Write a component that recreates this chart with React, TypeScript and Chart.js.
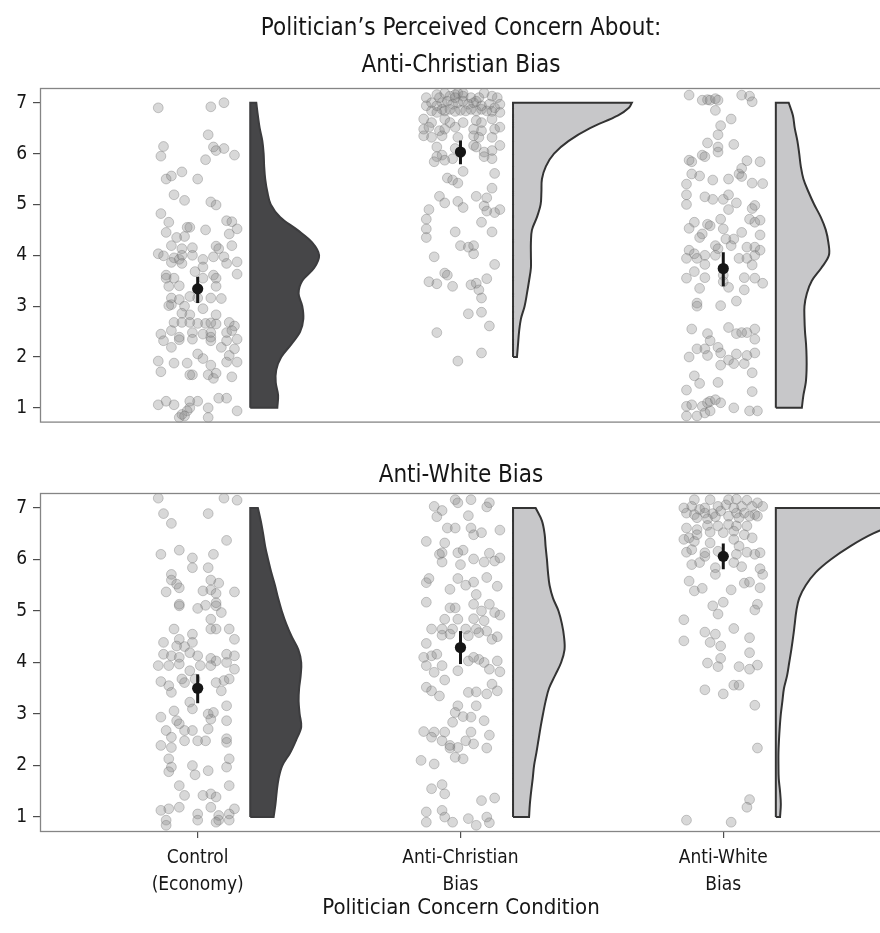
import { useEffect, useRef } from 'react';
import { Chart, registerables } from 'chart.js';

Chart.register(...registerables);

// ---------- data ----------
const CONDITIONS = [['Control', '(Economy)'], ['Anti-Christian', 'Bias'], ['Anti-White', 'Bias']];
const Y_TICKS = [1, 2, 3, 4, 5, 6, 7];
const PANEL_TITLES = ['Anti-Christian Bias', 'Anti-White Bias'];

// means with 95% CI, per condition
const P1_MEANS = [3.34, 6.03, 3.74];
const P1_CI_LOW = [3.06, 5.79, 3.39];
const P1_CI_HIGH = [3.58, 6.26, 4.06];
const P2_MEANS = [3.5, 4.29, 6.06];
const P2_CI_LOW = [3.21, 3.97, 5.81];
const P2_CI_HIGH = [3.77, 4.61, 6.31];

// density outlines: y levels and half-widths (category units)
const Y_FULL = [1, 1.25, 1.5, 1.75, 2, 2.25, 2.5, 2.75, 3, 3.25, 3.5, 3.75, 4, 4.25, 4.5, 4.75, 5, 5.25, 5.5, 5.75, 6, 6.25, 6.5, 6.75, 7];
const Y_FROM2 = [2, 2.25, 2.5, 2.75, 3, 3.25, 3.5, 3.75, 4, 4.25, 4.5, 4.75, 5, 5.25, 5.5, 5.75, 6, 6.25, 6.5, 6.75, 6.9, 7];
const Y_FULL_TOP = [1, 1.25, 1.5, 1.75, 2, 2.25, 2.5, 2.75, 3, 3.25, 3.5, 3.75, 4, 4.25, 4.5, 4.75, 5, 5.25, 5.5, 5.75, 6, 6.25, 6.5, 6.75, 6.9, 7];

const P1_CONTROL_DENSITY = [0.103, 0.106, 0.097, 0.099, 0.118, 0.156, 0.19, 0.202, 0.198, 0.184, 0.198, 0.243, 0.262, 0.236, 0.179, 0.114, 0.078, 0.065, 0.057, 0.053, 0.051, 0.046, 0.036, 0.029, 0.023];
const P1_ANTICHR_DENSITY = [0.015, 0.019, 0.023, 0.03, 0.044, 0.053, 0.061, 0.068, 0.068, 0.068, 0.072, 0.091, 0.105, 0.108, 0.11, 0.125, 0.156, 0.212, 0.293, 0.4, 0.441, 0.452];
const P1_ANTIWHT_DENSITY = [0.099, 0.105, 0.114, 0.117, 0.117, 0.115, 0.111, 0.109, 0.109, 0.118, 0.137, 0.173, 0.202, 0.2, 0.19, 0.171, 0.146, 0.124, 0.105, 0.095, 0.089, 0.082, 0.072, 0.065, 0.049];
const P2_CONTROL_DENSITY = [0.089, 0.096, 0.101, 0.108, 0.122, 0.152, 0.175, 0.194, 0.188, 0.184, 0.186, 0.192, 0.194, 0.183, 0.158, 0.137, 0.12, 0.106, 0.094, 0.08, 0.068, 0.057, 0.049, 0.04, 0.029];
const P2_ANTICHR_DENSITY = [0.061, 0.064, 0.069, 0.075, 0.08, 0.089, 0.097, 0.105, 0.114, 0.124, 0.137, 0.16, 0.183, 0.196, 0.194, 0.186, 0.173, 0.152, 0.139, 0.133, 0.129, 0.124, 0.12, 0.11, 0.086];
const P2_ANTIWHT_DENSITY = [0.016, 0.019, 0.016, 0.011, 0.01, 0.01, 0.012, 0.015, 0.019, 0.025, 0.031, 0.043, 0.051, 0.059, 0.066, 0.072, 0.078, 0.089, 0.114, 0.152, 0.209, 0.281, 0.369, 0.487, 0.551, 0.57];

// individual responses: [horizontal jitter, rating]
const P1_CONTROL_POINTS = [[-0.15,6.9],[0.05,6.92],[0.1,7],[0.04,6.37],[-0.13,6.14],[-0.14,5.95],[0.03,5.88],[0.06,6.13],[0.07,6.06],[0.1,6.1],[0.14,5.97],[-0.12,5.5],[-0.1,5.56],[-0.06,5.64],[0,5.5],[-0.09,5.19],[-0.05,5.08],[0.05,5.05],[0.07,4.99],[-0.14,4.82],[-0.11,4.65],[-0.12,4.45],[-0.04,4.55],[-0.03,4.55],[0.03,4.5],[0.11,4.68],[0.13,4.66],[0.15,4.52],[0.12,4.42],[-0.08,4.35],[-0.05,4.37],[-0.1,4.19],[-0.06,4.13],[-0.02,4.15],[0.07,4.18],[0.08,4.13],[0.13,4.19],[-0.15,4.03],[-0.13,3.99],[-0.09,3.95],[-0.07,3.92],[-0.06,4],[-0.02,4],[0.02,3.92],[0.06,3.97],[0.1,3.97],[0.11,3.84],[0.15,3.87],[-0.1,3.86],[-0.06,3.84],[-0.01,3.68],[0.02,3.77],[0.06,3.61],[0.15,3.63],[-0.12,3.61],[-0.12,3.55],[-0.09,3.55],[-0.11,3.39],[-0.07,3.4],[0.02,3.55],[0.07,3.55],[0.07,3.39],[-0.1,3.16],[-0.07,3.13],[-0.03,3.19],[0,3.16],[0.05,3.16],[0.09,3.15],[-0.1,3.03],[-0.11,3.01],[-0.05,3],[0.02,2.95],[-0.06,2.86],[-0.03,2.83],[0.07,2.83],[-0.09,2.68],[-0.06,2.68],[-0.03,2.68],[0,2.66],[0.03,2.66],[0.05,2.67],[0.07,2.65],[0.12,2.68],[0.14,2.61],[-0.14,2.45],[-0.1,2.52],[-0.07,2.39],[-0.02,2.48],[0.02,2.45],[0.05,2.48],[0.05,2.39],[0.11,2.48],[0.13,2.52],[-0.13,2.32],[-0.07,2.34],[-0.02,2.35],[0.05,2.32],[0.11,2.32],[0.15,2.35],[-0.1,2.19],[0.09,2.19],[0.14,2.16],[0,2.06],[0.02,1.97],[0.12,2.03],[-0.15,1.92],[-0.09,1.88],[-0.04,1.88],[0.05,1.84],[0.11,1.9],[0.15,1.9],[-0.14,1.71],[-0.03,1.65],[-0.02,1.65],[0.04,1.65],[0.06,1.58],[0.07,1.68],[0.13,1.61],[-0.15,1.06],[-0.12,1.13],[-0.09,1.06],[-0.03,1.13],[0,1.13],[0.08,1.19],[0.11,1.19],[-0.06,0.87],[-0.04,0.94],[-0.03,1],[0.04,1],[0.15,0.94],[-0.07,0.81],[-0.05,0.84],[0.04,0.81]];

const P1_ANTICHR_POINTS = [[-0.13,7.1],[-0.09,7.16],[-0.06,7.19],[-0.04,7.13],[-0.02,7.16],[-0.01,7.19],[0.01,7.13],[0.04,7.1],[0.09,7.19],[0.12,7.13],[0.14,7.1],[0.15,6.97],[-0.13,6.94],[-0.11,7],[-0.09,6.94],[-0.07,7],[-0.05,7.03],[-0.03,6.97],[-0.01,7],[0.01,7.03],[0.03,6.97],[0.05,7],[0.06,7.03],[0.08,6.94],[0.11,6.97],[0.13,6.9],[-0.11,6.84],[-0.09,6.81],[-0.07,6.87],[-0.06,6.84],[-0.04,6.87],[-0.02,6.83],[0,6.85],[0.02,6.84],[0.04,6.87],[0.06,6.84],[0.08,6.87],[0.1,6.84],[0.12,6.83],[0.15,6.81],[-0.08,7.1],[0.01,7.19],[0.07,7.1],[-0.02,7.1],[-0.14,6.68],[-0.11,6.61],[-0.06,6.68],[-0.04,6.61],[0.01,6.61],[0.06,6.65],[0.08,6.61],[0.12,6.68],[-0.14,6.48],[-0.12,6.52],[-0.08,6.45],[-0.06,6.48],[-0.02,6.52],[0.05,6.48],[0.08,6.45],[0.13,6.48],[0.15,6.52],[-0.14,6.35],[-0.11,6.32],[-0.07,6.35],[-0.01,6.32],[0.05,6.35],[0.07,6.32],[0.12,6.32],[-0.09,6.13],[-0.02,6.1],[0.05,6.16],[0.06,6.13],[0.09,6.03],[0.12,6.06],[0.15,6.16],[-0.09,5.94],[-0.07,5.97],[-0.1,5.84],[-0.06,5.87],[-0.03,5.9],[0.09,5.94],[0.12,5.9],[0.01,5.65],[-0.05,5.52],[-0.03,5.48],[-0.01,5.42],[0.13,5.61],[0.12,5.32],[-0.08,5.16],[-0.06,5.03],[-0.01,5.06],[0.01,4.94],[0.06,5.16],[0.1,5.13],[0.09,4.97],[0.1,4.87],[0.13,4.84],[0.15,4.9],[-0.12,4.9],[-0.13,4.71],[-0.13,4.52],[-0.13,4.35],[-0.02,4.46],[0.08,4.65],[0.12,4.46],[0,4.19],[0.03,4.16],[0.05,4.19],[0.05,4.03],[-0.1,3.97],[0.13,3.82],[-0.12,3.48],[-0.09,3.44],[-0.06,3.65],[-0.05,3.61],[-0.03,3.39],[0.04,3.42],[0.06,3.45],[0.07,3.32],[0.08,3.16],[0.1,3.54],[0.03,2.85],[0.08,2.88],[0.11,2.61],[-0.09,2.48],[0.08,2.08],[-0.01,1.92]];

const P1_ANTIWHT_POINTS = [[-0.13,7.15],[-0.08,7.05],[-0.06,7.06],[-0.05,7.05],[-0.03,7.08],[-0.02,7.05],[0.07,7.15],[0.1,7.13],[0.11,7.02],[-0.03,6.85],[-0.01,6.55],[0.03,6.68],[-0.02,6.37],[-0.06,6.21],[-0.02,6.13],[-0.08,5.97],[-0.07,5.94],[0.04,6.18],[-0.02,6.03],[-0.13,5.87],[-0.12,5.84],[-0.12,5.6],[-0.09,5.56],[-0.04,5.48],[0.02,5.5],[0.06,5.6],[0.07,5.55],[0.09,5.86],[0.14,5.84],[0.07,5.71],[0.11,5.42],[0.15,5.41],[-0.14,5.4],[-0.14,5.19],[-0.14,5],[-0.07,5.15],[-0.04,5.1],[0,5.1],[0.02,5.19],[0.02,4.9],[0.05,5.03],[0.11,4.92],[0.12,4.98],[-0.11,4.65],[-0.13,4.53],[-0.06,4.61],[-0.05,4.58],[-0.08,4.42],[-0.09,4.35],[-0.01,4.71],[0,4.52],[0.01,4.32],[0.04,4.32],[0.07,4.45],[0.1,4.71],[0.12,4.65],[0.14,4.69],[0.14,4.4],[0.03,4.19],[-0.03,4.19],[-0.13,4.1],[-0.14,3.94],[-0.11,4.03],[-0.1,3.94],[-0.07,4],[-0.07,3.82],[-0.02,4.13],[-0.03,4],[0.06,3.94],[0.09,3.94],[0.12,4],[0.12,4.16],[0.14,4.1],[0.09,4.16],[0.11,3.81],[-0.11,3.68],[-0.14,3.55],[-0.07,3.56],[0,3.61],[0,3.48],[0.02,3.37],[0.08,3.56],[0.12,3.55],[0.15,3.45],[-0.09,3.35],[-0.1,3.06],[-0.1,3],[-0.01,3.01],[0.05,3.1],[0.08,3.32],[-0.12,2.55],[-0.06,2.46],[-0.05,2.32],[0.02,2.58],[0.05,2.46],[0.07,2.48],[0.09,2.48],[0.12,2.55],[0.12,2.35],[-0.1,2.16],[-0.07,2.16],[-0.06,2.03],[-0.13,2],[-0.02,2.19],[-0.01,2.08],[-0.01,1.84],[0.02,1.94],[0.04,1.87],[0.05,2.06],[0.08,1.87],[0.09,2.03],[0.12,2.08],[0.11,1.69],[-0.11,1.63],[-0.09,1.48],[-0.14,1.35],[-0.02,1.5],[0.11,1.32],[-0.14,1.03],[-0.12,1.06],[-0.08,1.03],[-0.06,1.1],[-0.05,1.13],[-0.03,1.16],[-0.01,1.1],[-0.07,0.9],[-0.1,0.84],[-0.14,0.84],[0.04,1],[0.1,0.94],[0.13,0.94],[-0.05,0.94]];

const P2_CONTROL_POINTS = [[-0.15,7.19],[0.1,7.19],[0.15,7.15],[-0.13,6.89],[-0.1,6.7],[0.04,6.89],[0.11,6.37],[-0.14,6.1],[-0.07,6.18],[-0.02,6.03],[0.06,6.1],[-0.02,5.84],[0.04,5.84],[-0.1,5.71],[-0.1,5.6],[-0.08,5.52],[-0.12,5.37],[-0.07,5.45],[0.05,5.6],[0.08,5.54],[0.02,5.39],[0.05,5.41],[0.07,5.34],[0.14,5.37],[-0.07,5.1],[-0.07,5.13],[0,5.05],[0.03,5.11],[0.07,5.16],[0.07,5.1],[0.09,4.97],[0.05,4.84],[0.05,4.65],[0.07,4.65],[-0.09,4.65],[-0.07,4.45],[-0.02,4.55],[0.12,4.65],[0.14,4.45],[-0.13,4.39],[-0.08,4.32],[-0.05,4.31],[-0.02,4.39],[-0.13,4.16],[-0.1,4.13],[-0.07,4.1],[-0.03,4.19],[0,4.13],[0.05,4.08],[0.07,4.03],[0.11,4.16],[0.14,4.13],[-0.15,3.94],[-0.11,3.94],[-0.07,3.97],[-0.03,3.84],[0.01,3.94],[0.05,3.94],[0.11,4],[0.14,3.87],[-0.14,3.63],[-0.11,3.55],[-0.1,3.42],[-0.06,3.68],[-0.05,3.61],[-0.01,3.68],[0.07,3.61],[0.09,3.45],[0.1,3.65],[0.12,3.68],[-0.03,3.23],[-0.02,3.1],[-0.09,3.06],[-0.14,2.94],[-0.08,2.87],[-0.07,2.81],[0.04,3],[0.05,2.9],[0.06,3.03],[0.11,3.16],[0.11,2.87],[-0.12,2.68],[-0.1,2.55],[-0.05,2.68],[-0.02,2.68],[0,2.48],[0.04,2.71],[0.03,2.48],[0.11,2.52],[-0.14,2.39],[-0.1,2.35],[-0.05,2.48],[0.11,2.45],[-0.11,2.13],[-0.1,1.97],[-0.11,1.88],[-0.02,2],[-0.01,1.82],[0.04,1.9],[0.11,1.97],[0.12,2.13],[-0.07,1.61],[0.12,1.61],[-0.05,1.42],[0.02,1.42],[0.05,1.45],[0.07,1.39],[-0.14,1.13],[-0.11,1.16],[-0.07,1.19],[0,1.06],[0.05,1.19],[0.08,1.03],[0.12,1.06],[0.14,1.16],[-0.12,0.94],[-0.12,0.84],[0,0.94],[0.07,0.9],[0.08,0.94],[0.12,0.94]];

const P2_ANTICHR_POINTS = [[-0.1,7.03],[-0.07,6.95],[-0.09,6.83],[-0.02,7.16],[0.04,7.16],[-0.01,7.1],[0.11,7.1],[0.1,7.02],[0.03,6.85],[-0.05,6.61],[-0.02,6.61],[0.04,6.61],[0.05,6.48],[0.08,6.52],[0.15,6.57],[-0.13,6.35],[-0.06,6.32],[-0.07,6.13],[-0.08,6.1],[-0.01,6.13],[0.01,6.18],[0.05,6.01],[-0.07,5.95],[0,5.9],[0.11,6.12],[0.09,5.95],[0.13,5.97],[0.15,6.03],[-0.13,5.55],[-0.12,5.63],[-0.04,5.42],[-0.01,5.63],[0.02,5.5],[0.05,5.56],[0.06,5.32],[0.1,5.65],[0.14,5.48],[-0.13,5.17],[-0.04,5.06],[-0.02,5.06],[0.05,5.13],[0.08,5],[0.11,5.13],[0.13,4.97],[0.15,4.92],[-0.06,4.84],[-0.01,4.84],[0.05,4.85],[0.09,4.81],[-0.11,4.65],[-0.07,4.53],[-0.03,4.65],[0.02,4.65],[0.06,4.65],[0.07,4.58],[0.1,4.61],[0.12,4.45],[0.14,4.5],[-0.13,4.37],[-0.07,4.65],[-0.04,4.55],[0.03,4.52],[-0.14,4.1],[-0.11,4.13],[-0.09,4.16],[-0.13,3.94],[-0.07,3.94],[-0.1,3.81],[-0.01,3.84],[0.03,4.03],[0.07,4.06],[0.05,4.1],[0.09,4],[0.11,3.87],[0.14,4.03],[0.15,3.82],[-0.06,3.66],[-0.13,3.52],[-0.11,3.45],[-0.08,3.35],[0.03,3.42],[0.06,3.43],[0.1,3.39],[0.12,3.58],[0.14,3.45],[-0.01,3.16],[0.06,3.16],[-0.02,3.03],[0.01,2.95],[0.04,2.94],[-0.03,2.84],[0.09,2.87],[-0.14,2.66],[-0.1,2.65],[-0.06,2.65],[-0.11,2.55],[-0.07,2.48],[-0.04,2.39],[-0.04,2.34],[-0.01,2.35],[0.02,2.48],[0.04,2.65],[0.05,2.42],[0.11,2.59],[0.1,2.34],[-0.02,2.16],[0.01,2.13],[-0.15,2.1],[-0.1,2.03],[-0.11,1.55],[-0.07,1.63],[-0.06,1.45],[0.08,1.32],[0.13,1.37],[-0.13,1.1],[-0.07,1.13],[-0.06,1],[-0.03,0.9],[0.03,0.97],[0.1,1],[0.11,0.89],[0.06,0.84],[-0.13,0.9]];

const P2_ANTIWHT_POINTS = [[-0.11,7.16],[-0.05,7.16],[0.02,7.16],[0.05,7.17],[0.09,7.15],[0.13,7.1],[-0.15,7],[-0.12,7.03],[-0.09,6.97],[-0.07,7],[-0.02,7.03],[0.01,7.06],[0.04,7],[0.07,7.03],[0.11,7.03],[0.15,7.03],[-0.14,6.9],[-0.11,6.87],[-0.07,6.9],[-0.04,6.89],[-0.01,6.94],[0.05,6.9],[0.08,6.9],[0.12,6.87],[-0.1,6.81],[-0.06,6.79],[-0.03,6.83],[0.02,6.84],[0.06,6.81],[0.1,6.84],[0.13,6.84],[-0.14,6.61],[-0.1,6.58],[-0.06,6.66],[-0.02,6.65],[0.02,6.68],[0.05,6.65],[0.09,6.65],[-0.13,6.42],[-0.1,6.48],[-0.05,6.53],[0,6.52],[0.04,6.55],[0.08,6.48],[0.11,6.42],[-0.15,6.39],[-0.11,6.35],[-0.05,6.32],[0.04,6.39],[0.06,6.26],[-0.14,6.14],[-0.12,6.19],[-0.07,6.13],[-0.02,6.16],[0.05,6.1],[0.09,6.14],[0.12,6.1],[0.14,6.13],[-0.12,5.9],[-0.09,5.94],[-0.07,6.06],[-0.03,5.84],[0.04,5.94],[0.07,5.86],[0.14,5.82],[-0.03,5.71],[0.15,5.71],[-0.13,5.58],[-0.11,5.39],[-0.08,5.44],[0.03,5.41],[0.08,5.54],[0.1,5.56],[0.14,5.45],[-0.04,5.1],[-0.02,4.94],[0,5.17],[0.13,5.13],[0.12,5.02],[-0.15,4.83],[-0.15,4.42],[-0.07,4.59],[-0.05,4.39],[-0.03,4.55],[-0.01,4.32],[0.04,4.66],[0.1,4.48],[0.1,4.19],[-0.06,3.99],[-0.02,3.92],[-0.01,4.08],[0.06,3.92],[0.1,3.87],[0.13,3.95],[-0.07,3.47],[0,3.39],[0.04,3.56],[0.06,3.56],[0.12,3.17],[0.13,2.34],[0.1,1.34],[0.09,1.19],[-0.14,0.94],[0.03,0.9]];

// ---------- styling ----------
const FONT = "'Liberation Sans Narrow', 'DejaVu Sans Condensed', 'Roboto', sans-serif";
const INK = '#161616';
const TICK_GRAY = '#4d4d4d';
const BORDER_GRAY = '#858585';
const VIOLIN_OFFSET = 0.2;
const VIOLIN_FILLS = ['#464648', '#c7c7c9', '#c7c7c9'];
const VIOLIN_LINES = ['#3c3c3e', '#333333', '#333333'];
const CANVAS_W = 884;

Chart.defaults.font.family = FONT;
Chart.defaults.color = INK;

type Group = { points: number[][]; ys: number[]; widths: number[]; mean: number; lo: number; hi: number };

// closed half-violin outline: flat base on the left, density curve on the right
function outline(cat: number, ys: number[], ws: number[]) {
  const left = cat + VIOLIN_OFFSET;
  const n = ys.length;
  const pts: { x: number; y: number }[] = [{ x: left, y: ys[0] }];
  pts.push({ x: left + ws[0], y: ys[0] }, { x: left + ws[0], y: ys[0] });
  for (let i = 1; i < n - 1; i++) pts.push({ x: left + ws[i], y: ys[i] });
  pts.push({ x: left + ws[n - 1], y: ys[n - 1] }, { x: left + ws[n - 1], y: ys[n - 1] });
  pts.push({ x: left, y: ys[n - 1] }, { x: left, y: ys[n - 1] }, { x: left, y: ys[0] });
  return pts;
}

function buildDatasets(groups: Group[]) {
  const sets: any[] = [];
  groups.forEach((g, i) => {
    const cat = i + 1;
    sets.push({
      type: 'scatter',
      data: outline(cat, g.ys, g.widths),
      showLine: true,
      fill: 'shape',
      tension: 0.35,
      capBezierPoints: false,
      backgroundColor: VIOLIN_FILLS[i],
      borderColor: VIOLIN_LINES[i],
      borderWidth: 2,
      pointRadius: 0,
      order: 3,
    });
    sets.push({
      type: 'scatter',
      data: g.points.map(([dx, v]) => ({ x: cat + dx, y: v })),
      pointRadius: 4.9,
      pointBackgroundColor: 'rgba(125,125,125,0.3)',
      pointBorderColor: 'rgba(105,105,105,0.34)',
      pointBorderWidth: 1,
      order: 2,
    });
    sets.push({
      type: 'scatter',
      data: [{ x: cat, y: g.lo }, { x: cat, y: g.hi }],
      showLine: true,
      borderColor: INK,
      borderWidth: 3,
      pointRadius: 0,
      order: 1,
    });
    sets.push({
      type: 'scatter',
      data: [{ x: cat, y: g.mean }],
      pointRadius: 5.6,
      pointBackgroundColor: INK,
      pointBorderWidth: 0,
      order: 0,
    });
  });
  return sets;
}

const panelBorder = {
  id: 'panelBorder',
  afterDatasetsDraw(chart: any) {
    const { ctx, chartArea: a } = chart;
    ctx.save();
    ctx.strokeStyle = BORDER_GRAY;
    ctx.lineWidth = 1.3;
    ctx.strokeRect(a.left + 0.5, a.top + 0.5, a.right - a.left, a.bottom - a.top - 1);
    ctx.restore();
  },
};

function makeOptions(opts: { title: string[]; titleLH: string; titlePad: any; showX: boolean; bottomPad: number }) {
  return {
    responsive: false,
    animation: false as const,
    events: [],
    layout: { autoPadding: false, padding: { top: 0, left: 0, right: 2, bottom: opts.bottomPad } },
    plugins: {
      legend: { display: false },
      tooltip: { enabled: false },
      title: {
        display: true,
        fullSize: false,
        text: opts.title,
        color: INK,
        font: { size: 24, weight: 'normal' as const, lineHeight: opts.titleLH },
        padding: opts.titlePad,
      },
    },
    scales: {
      x: {
        type: 'linear' as const,
        min: 0.4,
        max: 3.604,
        display: opts.showX,
        afterBuildTicks: (axis: any) => {
          axis.ticks = CONDITIONS.map((_, i) => ({ value: i + 1 }));
        },
        afterFit: (axis: any) => {
          if (opts.showX) axis.height = 101;
        },
        border: { display: false },
        grid: { drawOnChartArea: false, drawTicks: true, tickLength: 6, color: TICK_GRAY, lineWidth: 1.2 },
        ticks: {
          autoSkip: false,
          maxRotation: 0,
          padding: 6.5,
          color: INK,
          font: { size: 19, lineHeight: '27px' },
          callback: (v: any) => CONDITIONS[Math.round(v) - 1],
        },
        title: {
          display: true,
          text: 'Politician Concern Condition',
          color: INK,
          font: { size: 22, lineHeight: '26px' },
          padding: { top: 0, bottom: 12 },
        },
      },
      y: {
        type: 'linear' as const,
        min: 0.71,
        max: 7.29,
        afterBuildTicks: (axis: any) => {
          axis.ticks = Y_TICKS.map((v) => ({ value: v }));
        },
        afterFit: (axis: any) => {
          axis.width = 40;
        },
        border: { display: false },
        grid: { drawOnChartArea: false, drawTicks: true, tickLength: 7, color: TICK_GRAY, lineWidth: 1.2 },
        ticks: { padding: 6, color: INK, font: { size: 19 } },
      },
    },
  };
}

function Panel(props: { groups: Group[]; height: number; top: number; options: any }) {
  const ref = useRef<HTMLCanvasElement | null>(null);
  useEffect(() => {
    if (!ref.current) return;
    const chart = new Chart(ref.current, {
      type: 'scatter',
      data: { datasets: buildDatasets(props.groups) },
      options: props.options,
      plugins: [panelBorder],
    } as any);
    return () => chart.destroy();
  }, []);
  return (
    <canvas
      ref={ref}
      width={CANVAS_W}
      height={props.height}
      style={{ position: 'absolute', left: 0, top: props.top, display: 'block' }}
    />
  );
}

export default function App() {
  const panel1: Group[] = [
    { points: P1_CONTROL_POINTS, ys: Y_FULL, widths: P1_CONTROL_DENSITY, mean: P1_MEANS[0], lo: P1_CI_LOW[0], hi: P1_CI_HIGH[0] },
    { points: P1_ANTICHR_POINTS, ys: Y_FROM2, widths: P1_ANTICHR_DENSITY, mean: P1_MEANS[1], lo: P1_CI_LOW[1], hi: P1_CI_HIGH[1] },
    { points: P1_ANTIWHT_POINTS, ys: Y_FULL, widths: P1_ANTIWHT_DENSITY, mean: P1_MEANS[2], lo: P1_CI_LOW[2], hi: P1_CI_HIGH[2] },
  ];
  const panel2: Group[] = [
    { points: P2_CONTROL_POINTS, ys: Y_FULL, widths: P2_CONTROL_DENSITY, mean: P2_MEANS[0], lo: P2_CI_LOW[0], hi: P2_CI_HIGH[0] },
    { points: P2_ANTICHR_POINTS, ys: Y_FULL, widths: P2_ANTICHR_DENSITY, mean: P2_MEANS[1], lo: P2_CI_LOW[1], hi: P2_CI_HIGH[1] },
    { points: P2_ANTIWHT_POINTS, ys: Y_FULL_TOP, widths: P2_ANTIWHT_DENSITY, mean: P2_MEANS[2], lo: P2_CI_LOW[2], hi: P2_CI_HIGH[2] },
  ];
  const opts1 = makeOptions({
    title: ['Politician’s Perceived Concern About:', PANEL_TITLES[0]],
    titleLH: '37px',
    titlePad: { top: 10.5, bottom: 3.5 },
    showX: false,
    bottomPad: 12,
  });
  const opts2 = makeOptions({
    title: [PANEL_TITLES[1]],
    titleLH: '34px',
    titlePad: { top: 19, bottom: 0 },
    showX: true,
    bottomPad: 0,
  });
  return (
    <div style={{ position: 'absolute', left: 0, top: 0, width: 880, height: 933, overflow: 'hidden', background: '#fff' }}>
      <Panel groups={panel1} height={440} top={0} options={opts1} />
      <Panel groups={panel2} height={493} top={440} options={opts2} />
    </div>
  );
}
